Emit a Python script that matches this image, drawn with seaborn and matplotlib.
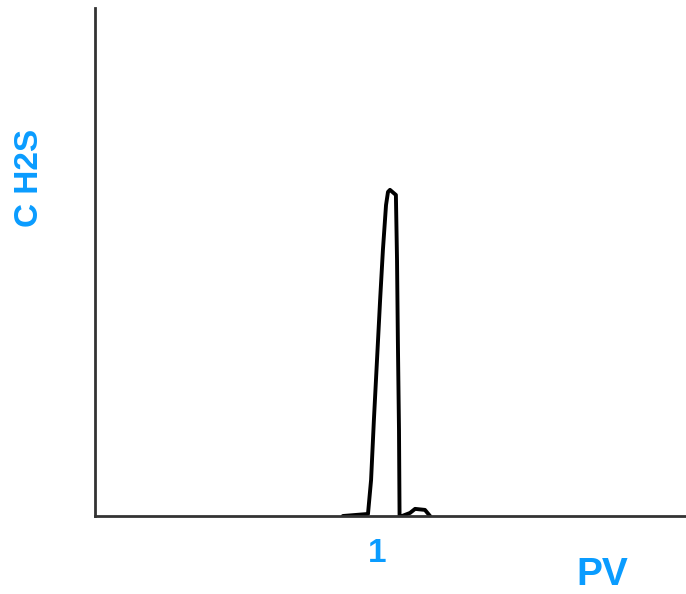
import matplotlib
matplotlib.use("Agg")
import matplotlib.pyplot as plt
import seaborn as sns
import pandas as pd

# Breakthrough curve: H2S concentration vs pore volume (PV)
pv = [0.879, 0.968, 0.979, 0.989, 1.000, 1.011, 1.021, 1.032, 1.039, 1.046,
      1.067, 1.071, 1.074, 1.078, 1.080, 1.089, 1.117, 1.135, 1.170, 1.188]
c_h2s = [0.0, 0.004, 0.071, 0.189, 0.307, 0.425, 0.524, 0.612, 0.638, 0.642,
         0.632, 0.504, 0.346, 0.169, 0.0, 0.0, 0.006, 0.014, 0.012, 0.0]
x_ticks = [1]
x_tick_labels = ["1"]
x_label = "PV"
y_label = "C H2S"

sns.set_style("white")
plt.rcParams['font.family'] = ['Liberation Sans', 'DejaVu Sans']

fig = plt.figure(figsize=(6.86, 5.94), dpi=100)
ax = fig.add_axes([95/686, 78/594, 591/686, 508/594])

df = pd.DataFrame({"pv": pv, "c": c_h2s})
sns.lineplot(data=df, x="pv", y="c", sort=False, estimator=None,
             color="black", linewidth=2.8, ax=ax)

ax.set_xlim(0, 591/282)
ax.set_ylim(0, 1)
ax.set_xticks(x_ticks)
ax.set_xticklabels(x_tick_labels)
ax.set_yticks([])
ax.set_xlabel("")
ax.set_ylabel("")
blue = "#0a9cff"
ax.tick_params(axis="x", length=0, pad=16, labelsize=24, labelcolor=blue)
for t in ax.get_xticklabels():
    t.set_fontweight("bold")

for s in ["top", "right"]:
    ax.spines[s].set_visible(False)
for s in ["left", "bottom"]:
    ax.spines[s].set_color("#333333")
    ax.spines[s].set_linewidth(2)

fig.text(30/686, 1 - 178/594, y_label, rotation=90, color=blue,
         fontsize=24, fontweight="bold", ha="center", va="center")
fig.text(602/686, 1 - 575/594, x_label, color=blue,
         fontsize=28, fontweight="bold", ha="center", va="center")

fig.savefig("out.png", dpi=100)
